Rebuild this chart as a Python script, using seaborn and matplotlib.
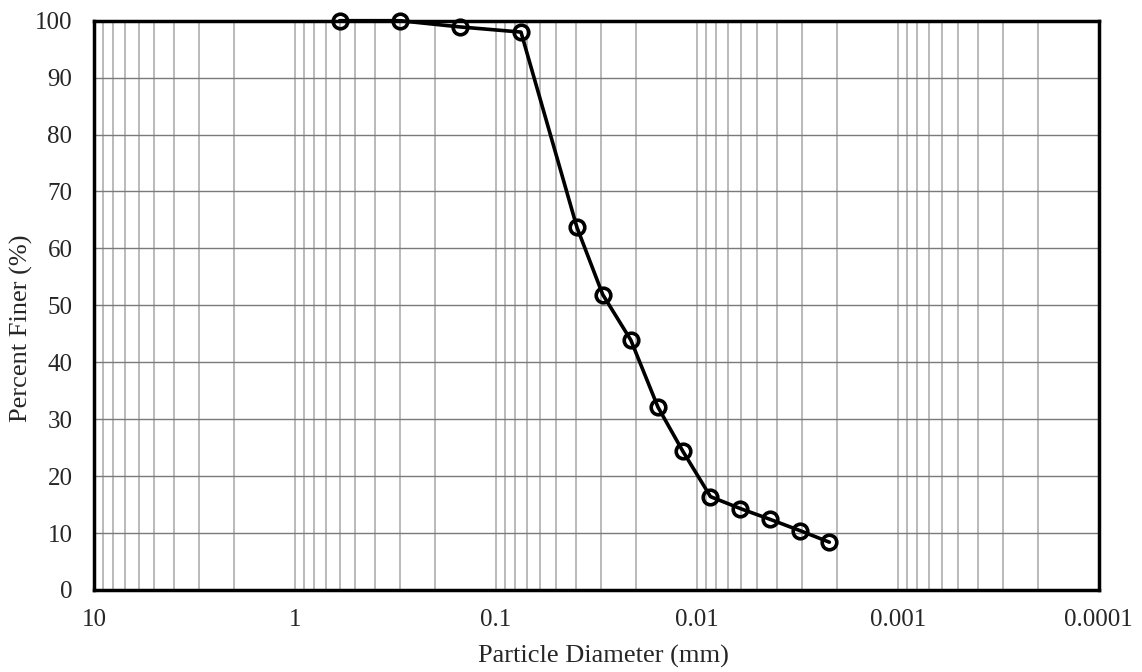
import numpy as np
import pandas as pd
import matplotlib
matplotlib.use("Agg")
import matplotlib.pyplot as plt
import matplotlib.ticker as mticker
import seaborn as sns

# Grain size distribution (sieve + hydrometer)
diameter_mm = [0.6, 0.3, 0.15, 0.075, 0.0395, 0.0294, 0.0213, 0.0156,
               0.01175, 0.00855, 0.00607, 0.00431, 0.00305, 0.00219]
percent_finer = [100.0, 100.0, 98.9, 98.0, 63.7, 51.9, 43.9, 32.1,
                 24.4, 16.4, 14.3, 12.4, 10.4, 8.4]
x_tick_values = [10, 1, 0.1, 0.01, 0.001, 0.0001]
x_tick_labels = ["10", "1", "0.1", "0.01", "0.001", "0.0001"]
y_tick_values = list(range(0, 101, 10))

df = pd.DataFrame({"d": diameter_mm, "p": percent_finer})

sns.set_theme(style="white")
plt.rcParams["font.family"] = ["Liberation Serif", "DejaVu Serif"]

fig = plt.figure(figsize=(11.42, 6.72), dpi=100)
ax = fig.add_axes([94 / 1142, 1 - 590 / 672, (1098.7 - 94) / 1142, (590 - 20.7) / 672])

ax.set_xscale("log")
ax.set_xlim(10, 0.0001)
ax.set_ylim(0, 100)

# grid: light vertical lines at every log minor/major step, darker horizontal lines
ax.xaxis.set_major_locator(mticker.FixedLocator(x_tick_values))
ax.xaxis.set_major_formatter(mticker.FixedFormatter(x_tick_labels))
ax.xaxis.set_minor_locator(mticker.LogLocator(base=10, subs=np.arange(2, 10)))
ax.xaxis.set_minor_formatter(mticker.NullFormatter())
ax.yaxis.set_major_locator(mticker.FixedLocator(y_tick_values))
ax.grid(True, axis="x", which="both", color="#b4b4b4", linewidth=1.3)
ax.grid(True, axis="y", which="major", color="#7a7a7a", linewidth=1.0)
ax.set_axisbelow(True)

sns.lineplot(data=df, x="d", y="p", ax=ax, color="black", linewidth=2.6,
             marker="o", markersize=10.5, markerfacecolor="none",
             markeredgecolor="black", markeredgewidth=2.6, sort=False,
             estimator=None, clip_on=False, zorder=5)

for side in ["left", "right", "top", "bottom"]:
    ax.spines[side].set_visible(True)
    ax.spines[side].set_color("black")
    ax.spines[side].set_linewidth(2.5)

ax.tick_params(axis="both", which="both", length=0, labelsize=18)
ax.tick_params(axis="x", pad=14)
ax.tick_params(axis="y", pad=15.5)
ax.set_xlabel("Particle Diameter (mm)", fontsize=19, va="center")
ax.set_ylabel("Percent Finer (%)", fontsize=19, va="center")
ax.xaxis.set_label_coords((603 - 94) / 1004.7, (590 - 656) / 569.3)
ax.yaxis.set_label_coords((21 - 94) / 1004.7, (590 - 328) / 569.3)

fig.savefig("out.png", dpi=100)
